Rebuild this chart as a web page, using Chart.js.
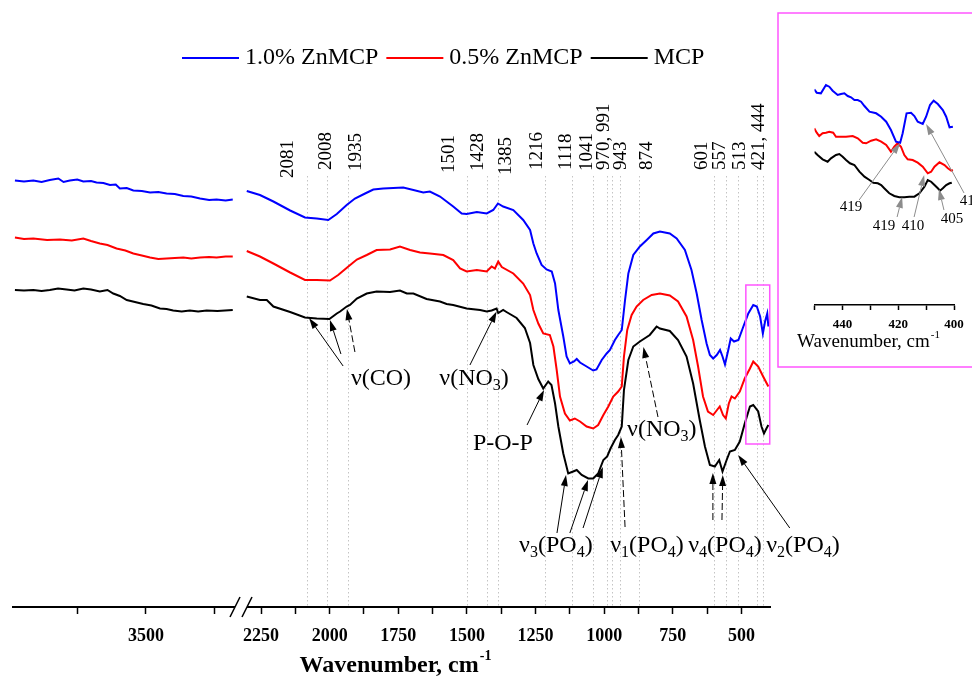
<!DOCTYPE html>
<html>
<head>
<meta charset="utf-8">
<script src="https://cdn.jsdelivr.net/npm/chart.js@4.4.1/dist/chart.umd.min.js"></script>
<style>
  html, body { margin: 0; padding: 0; background: #fff; }
  #wrap { position: relative; width: 972px; height: 684px; overflow: hidden; }
  #main { position: absolute; left: 0; top: 0; }
  #inset { position: absolute; left: 776px; top: 8px; }
</style>
</head>
<body>
<div id="wrap">
  <canvas id="main" width="972" height="684"></canvas>
  <canvas id="inset" width="196" height="370"></canvas>
</div>
<script>
const FONT = "'Liberation Serif', 'Times New Roman', serif";

// FTIR spectra, [wavenumber cm-1, transmittance a.u. (curves offset)]
// high-wavenumber segment (left of the axis break)
const zn10High = [[3977,85.3],[3944,85.1],[3910,85.3],[3880,85.0],[3850,85.4],[3819,85.7],[3800,85.0],[3777,85.3],[3750,85.5],[3728,85.1],[3700,85.2],[3680,84.9],[3655,84.8],[3631,84.4],[3610,84.5],[3595,83.7],[3570,83.8],[3546,83.3],[3515,83.2],[3485,82.9],[3455,83.0],[3425,82.7],[3395,82.6],[3364,82.2],[3335,82.1],[3303,81.7],[3270,81.4],[3243,81.5],[3210,81.3],[3184,81.5]];
const zn05High = [[3977,73.9],[3944,73.6],[3910,73.7],[3860,73.4],[3813,73.5],[3770,73.3],[3728,73.7],[3700,73.2],[3668,72.7],[3640,72.4],[3607,71.7],[3575,71.3],[3546,70.7],[3515,70.3],[3485,69.9],[3455,69.6],[3425,69.7],[3395,69.8],[3364,69.9],[3335,69.7],[3303,69.9],[3270,70.0],[3243,69.9],[3210,70.1],[3184,70.1]];
const mcpHigh = [[3977,63.4],[3944,63.3],[3910,63.4],[3880,63.2],[3850,63.4],[3820,63.7],[3789,63.5],[3760,63.3],[3728,63.7],[3700,63.5],[3668,63.1],[3640,63.4],[3619,62.7],[3595,62.2],[3570,61.4],[3540,61.0],[3510,60.6],[3480,60.3],[3449,59.7],[3425,59.6],[3401,59.3],[3370,59.1],[3340,59.3],[3310,59.1],[3279,59.3],[3240,59.2],[3184,59.4]];

// fingerprint segment (right of the break)
const zn10Low = [[2302,83.2],[2254,82.4],[2205,81.1],[2144,79.3],[2090,77.9],[2047,77.7],[2005,77.4],[1974,78.6],[1938,80.4],[1908,81.7],[1871,82.7],[1841,83.5],[1805,83.7],[1732,83.9],[1695,83.4],[1659,82.9],[1635,83.1],[1598,82.1],[1550,80.1],[1519,78.7],[1501,78.6],[1464,79.0],[1428,78.7],[1404,79.4],[1387,80.7],[1368,80.1],[1331,79.4],[1295,77.4],[1270,75.4],[1258,72.7],[1246,70.7],[1228,68.4],[1210,67.5],[1191,67.1],[1179,64.7],[1167,59.4],[1149,54.1],[1137,50.1],[1125,48.7],[1110,49.1],[1100,49.6],[1088,48.9],[1064,48.1],[1040,47.3],[1028,47.5],[1009,49.4],[991,50.7],[979,51.4],[961,53.4],[949,54.4],[936,55.4],[924,61.4],[912,66.7],[894,70.4],[870,72.1],[845,73.4],[821,74.7],[797,75.1],[761,74.7],[736,73.7],[706,71.4],[682,67.4],[663,62.7],[645,57.4],[627,52.7],[615,50.4],[603,49.7],[590,50.4],[578,51.4],[569,50.1],[560,48.5],[548,51.4],[539,53.7],[527,53.1],[511,53.4],[493,56.1],[475,58.7],[457,60.4],[444,60.1],[432,58.1],[422,54.7],[414,57.1],[406,58.7],[402,56.1]];
const zn05Low = [[2302,71.2],[2254,70.1],[2205,68.7],[2144,66.9],[2090,65.4],[2047,65.4],[1999,65.3],[1969,66.4],[1932,68.1],[1901,69.5],[1865,70.4],[1829,71.4],[1780,71.5],[1744,72.1],[1707,71.4],[1671,70.9],[1635,70.7],[1586,70.4],[1550,69.4],[1525,67.7],[1501,67.1],[1464,67.4],[1428,67.1],[1410,68.1],[1398,67.7],[1386,69.1],[1373,68.0],[1331,66.7],[1295,64.7],[1270,62.4],[1258,59.4],[1240,56.7],[1222,54.7],[1198,54.4],[1185,52.1],[1173,47.4],[1161,42.1],[1143,38.7],[1125,37.3],[1107,37.7],[1088,37.1],[1064,36.1],[1040,35.7],[1022,36.4],[1003,38.4],[985,40.1],[967,42.1],[949,43.1],[936,44.1],[928,50.1],[916,55.4],[900,58.4],[882,60.1],[858,61.4],[827,62.4],[797,62.7],[761,62.3],[731,61.1],[700,58.1],[676,53.4],[658,48.1],[640,42.1],[622,39.1],[603,38.4],[589,39.4],[579,40.1],[567,38.4],[557,37.7],[546,40.7],[536,42.1],[524,41.7],[506,43.1],[488,45.7],[469,47.7],[457,49.1],[439,48.1],[421,46.1],[402,44.1]];
const mcpLow = [[2302,62.1],[2254,61.4],[2229,61.4],[2205,60.1],[2144,59.0],[2090,57.9],[2047,57.7],[2001,57.6],[1974,58.7],[1962,59.1],[1938,60.1],[1926,60.4],[1901,61.7],[1865,62.7],[1829,63.1],[1780,63.0],[1744,63.3],[1719,62.7],[1695,62.7],[1647,61.6],[1598,61.1],[1574,60.6],[1550,60.4],[1501,59.7],[1452,59.4],[1428,59.1],[1410,59.3],[1392,59.7],[1386,58.8],[1368,59.4],[1356,59.0],[1319,57.8],[1289,55.8],[1270,52.8],[1258,48.4],[1240,45.6],[1222,43.7],[1204,45.1],[1192,44.4],[1179,40.7],[1167,36.1],[1149,30.7],[1131,26.7],[1113,27.1],[1100,27.4],[1082,26.4],[1058,25.7],[1040,25.7],[1022,26.7],[1003,29.4],[989,30.1],[977,31.7],[961,33.4],[949,34.4],[936,36.1],[928,43.4],[912,49.4],[894,52.1],[870,53.1],[834,54.4],[809,56.1],[797,55.7],[761,55.2],[731,53.4],[700,50.1],[676,44.7],[652,37.4],[633,32.1],[615,28.4],[597,28.1],[581,29.4],[569,27.1],[554,29.4],[542,31.1],[524,31.4],[506,33.1],[488,36.7],[469,40.1],[457,40.4],[439,39.1],[427,36.1],[418,34.7],[409,35.7],[402,36.4]];

// 450-400 cm-1 detail
const zn10Inset = [[450.1,215.7],[449.2,212.3],[447.7,211.7],[445.9,220],[444.7,218.3],[443.5,214.3],[441.7,210],[440.5,211],[439.3,211.7],[438.1,209],[436.9,207.7],[435.7,205],[434.5,205],[433.3,203.3],[432.1,199],[430.3,193.3],[427.9,191.7],[426.1,188.3],[424.3,183.3],[422.6,175],[420.8,163.3],[419.3,162.3],[418.4,171.7],[417,191.7],[415.4,192.3],[414.2,189],[413,183.3],[411.2,181],[410,188.3],[408.6,200],[407.3,204.3],[405.8,201],[404,195],[402.8,188.3],[401.6,177.7],[400.4,178.3]];
const zn05Inset = [[450.1,176.7],[449.2,172.3],[448.3,169],[447.1,171.7],[445.9,172.3],[444.7,173.3],[443.3,172.3],[442.3,168.3],[441.1,168.3],[438.7,168.3],[436.3,169],[434.5,166.7],[432.7,162.3],[431.5,161.7],[429.7,164.3],[427.9,165.7],[426.1,163.3],[424.3,160],[422.6,153.3],[421.4,158.3],[420.2,161.7],[419,158.3],[417.8,150],[416.6,145.7],[414.8,145],[413,142.3],[411.2,138.3],[409.4,131.7],[408.2,133.3],[407,138.3],[405.2,142.7],[403.4,140],[402.2,136.7],[401,134.3],[400.4,135]];
const mcpInset = [[450.1,153.3],[448.9,150],[447.1,145.7],[445.3,143.3],[444.1,146.7],[442.3,150],[441.1,151],[439.9,148.3],[438.7,145],[437.3,141.7],[435.7,140],[433.9,133.3],[432.1,128.3],[430.3,125],[428.9,122.3],[427.3,121.7],[426.1,120],[425,116.7],[423.2,111.7],[421.4,109],[419.6,107.7],[417.8,107.7],[416,108.3],[414.2,108.3],[412.4,111.7],[410.6,118.3],[409.4,125],[408.2,123.3],[407,120],[405.8,116.7],[405,114.3],[404,116.7],[402.8,120],[401.6,121.7],[400.8,122.3]];

const seriesNames = ['1.0% ZnMCP', '0.5% ZnMCP', 'MCP'];
const seriesColors = ['#0000ff', '#ff0000', '#000000'];

// axis ticks
const highTicks = [3750, 3500, 3250];
const highTickLabels = [3500];
const lowTicks = [2250, 2125, 2000, 1875, 1750, 1625, 1500, 1375, 1250, 1125, 1000, 875, 750, 625, 500];
const lowTickLabels = [2250, 2000, 1750, 1500, 1250, 1000, 750, 500];
const insetTicks = [450, 440, 430, 420, 410, 400];
const insetTickLabels = [440, 420, 400];

// assigned bands: dotted guides, and the rotated labels [text, wavenumber, level]
const peakLines = [2081, 2008, 1935, 1501, 1428, 1385, 1216, 1118, 1041, 991, 970, 943, 874, 601, 557, 513, 444, 421];
const peakLabels = [['2081',2153,85.8],['2008',2014,87.4],['1935',1905,87.2],['1501',1565,86.8],['1428',1460,87.2],['1385',1359,86.4],['1216',1246,87.4],['1118',1139,87.4],['1041',1064,87.2],['970, 991',999,87.4],['943',939,87.4],['874',843,87.4],['601',645,87.4],['557',578,87.4],['513',506,87.4],['421, 444',435,87.4]];

// band assignments: text (_ = subscript), anchor [wavenumber, level]
const bandNotes = [['ν(CO)',1813,45.6],['ν(NO_3)',1474,45.6],['P-O-P',1369,32.6],['ν_3(PO_4)',1176,12.2],['ν_1(PO_4)',844,12.2],['ν(NO_3)',790,35.4],['ν_4(PO_4)',560,12.2],['ν_2(PO_4)',276,12.2]];
// arrows [from wn, from level, to wn, to level, dashed]
const bandArrows = [[1951,48.2,2075,57.8,0],[1959,50.6,1999,57.4,0],[1908,51,1937,59.6,1],[1489,48.4,1392,59.1,0],[1281,36.4,1219,43.4,0],[1172,14.8,1139,26.4,0],[1125,14.8,1059,25.4,0],[1077,15.8,1005,28,0],[924,16,939,34,1],[804,38,857,52,1],[604,17.4,604,26.8,1],[571,17.4,568,26.4,1],[324,15.8,512,30.4,0]];

const insetNotes = [['419',436.9,98],['419',425.1,79],['410',414.7,79],['405',400.7,86],['410',393.9,104]];
const insetArrows = [[434.0,105,419.3,162],[420.4,88,418.6,108],[414.3,88,410.7,130],[403.6,95,405.4,116],[396.4,112,410,181]];

function line(points, color, xAxisID) {
  return {
    data: points.map(([x, y]) => ({ x, y })),
    borderColor: color, borderWidth: 2, pointRadius: 0, tension: 0, fill: false,
    xAxisID, yAxisID: 'y'
  };
}

function arrow(ctx, x0, y0, x1, y1, color, dashed) {
  const a = Math.atan2(y1 - y0, x1 - x0), c = Math.cos(a), s = Math.sin(a);
  const head = 11, half = 3.5;
  ctx.save();
  ctx.strokeStyle = color; ctx.fillStyle = color; ctx.lineWidth = 1;
  ctx.setLineDash(dashed ? [7, 3] : []);
  ctx.beginPath();
  ctx.moveTo(x0, y0);
  ctx.lineTo(x1 - head * c, y1 - head * s);
  ctx.stroke();
  ctx.setLineDash([]);
  ctx.beginPath();
  ctx.moveTo(x1, y1);
  ctx.lineTo(x1 - head * c + half * s, y1 - head * s - half * c);
  ctx.lineTo(x1 - head * c - half * s, y1 - head * s + half * c);
  ctx.closePath();
  ctx.fill();
  ctx.restore();
}

// text with subscripts, centred on (cx, cy)
function richText(ctx, str, cx, cy, size) {
  const parts = [];
  for (let i = 0; i < str.length; i++) {
    if (str[i] === '_') { parts.push({ t: str[i + 1], sub: true }); i++; }
    else if (parts.length && !parts[parts.length - 1].sub) parts[parts.length - 1].t += str[i];
    else parts.push({ t: str[i], sub: false });
  }
  const subSize = Math.round(size * 0.66);
  let total = 0;
  parts.forEach(p => {
    ctx.font = (p.sub ? subSize : size) + 'px ' + FONT;
    p.w = ctx.measureText(p.t).width;
    total += p.w;
  });
  let x = cx - total / 2;
  ctx.textAlign = 'left';
  ctx.textBaseline = 'middle';
  parts.forEach(p => {
    ctx.font = (p.sub ? subSize : size) + 'px ' + FONT;
    ctx.fillText(p.t, x, p.sub ? cy + size * 0.3 : cy);
    x += p.w;
  });
}

function axisTitle(ctx, cx, cy, size, weight) {
  ctx.save();
  ctx.fillStyle = '#000';
  ctx.textBaseline = 'middle';
  ctx.textAlign = 'left';
  ctx.font = weight + ' ' + size + 'px ' + FONT;
  const main = 'Wavenumber, cm';
  const w = ctx.measureText(main).width;
  ctx.font = weight + ' ' + Math.round(size * 0.6) + 'px ' + FONT;
  const ws = ctx.measureText('-1').width;
  const x = cx - (w + ws) / 2;
  ctx.font = weight + ' ' + size + 'px ' + FONT;
  ctx.fillText(main, x, cy);
  ctx.font = weight + ' ' + Math.round(size * 0.6) + 'px ' + FONT;
  ctx.fillText('-1', x + w + 1, cy - size * 0.38);
  ctx.restore();
}

const spectrumDecor = {
  id: 'spectrumDecor',
  beforeDatasetsDraw(chart) {
    const { ctx, scales: { xLow, y } } = chart;
    ctx.save();
    ctx.strokeStyle = '#c4c4c4';
    ctx.lineWidth = 1;
    ctx.setLineDash([1.5, 2.5]);
    peakLines.forEach(wn => {
      const x = Math.round(xLow.getPixelForValue(wn)) + 0.5;
      ctx.beginPath();
      ctx.moveTo(x, y.getPixelForValue(86.2));
      ctx.lineTo(x, y.getPixelForValue(0));
      ctx.stroke();
    });
    ctx.restore();
  },
  afterDraw(chart) {
    const { ctx, scales: { xHigh, xLow, y } } = chart;
    const px = wn => xLow.getPixelForValue(wn);
    const py = v => y.getPixelForValue(v);

    // axis break
    const bx = xHigh.right, by = py(0);
    ctx.save();
    ctx.fillStyle = '#fff';
    ctx.fillRect(bx - 6, by - 3, 12, 6);
    ctx.strokeStyle = '#000';
    ctx.lineWidth = 1.5;
    [-6, 6].forEach(d => {
      ctx.beginPath();
      ctx.moveTo(bx + d - 5, by + 10);
      ctx.lineTo(bx + d + 5, by - 10);
      ctx.stroke();
    });
    ctx.restore();

    // rotated band positions
    ctx.save();
    ctx.fillStyle = '#000';
    ctx.font = '19px ' + FONT;
    ctx.textAlign = 'left';
    ctx.textBaseline = 'middle';
    peakLabels.forEach(([t, wn, lv]) => {
      ctx.save();
      ctx.translate(px(wn), py(lv));
      ctx.rotate(-Math.PI / 2);
      ctx.fillText(t, 0, 0);
      ctx.restore();
    });
    ctx.restore();

    // assignments
    ctx.save();
    ctx.fillStyle = '#000';
    bandNotes.forEach(([t, wn, lv]) => richText(ctx, t, px(wn), py(lv), 24));
    ctx.restore();
    bandArrows.forEach(([w0, l0, w1, l1, d]) => arrow(ctx, px(w0), py(l0), px(w1), py(l1), '#000', d));

    // window shown in the detail panel
    ctx.save();
    ctx.strokeStyle = '#ff55ff';
    ctx.lineWidth = 1.5;
    const x0 = px(484), x1 = px(397), y0 = py(64.4), y1 = py(32.6);
    ctx.strokeRect(x0, y0, x1 - x0, y1 - y0);
    ctx.restore();

    // legend
    ctx.save();
    ctx.font = '24px ' + FONT;
    ctx.textBaseline = 'middle';
    ctx.textAlign = 'left';
    let lx = 182;
    const ly = 58;
    seriesNames.forEach((name, i) => {
      ctx.strokeStyle = seriesColors[i];
      ctx.lineWidth = 2;
      ctx.beginPath();
      ctx.moveTo(lx, ly);
      ctx.lineTo(lx + 57, ly);
      ctx.stroke();
      ctx.fillStyle = '#000';
      ctx.fillText(name, lx + 63, ly);
      lx += 63 + ctx.measureText(name).width + 8;
    });
    ctx.restore();

    axisTitle(ctx, 395, 666, 24, 'bold');
  }
};

function wnAxis(ticks, labels, extra) {
  return Object.assign({
    type: 'linear', axis: 'x', position: 'bottom', stack: 'wn', reverse: true, offset: false,
    grid: { drawOnChartArea: false, drawTicks: true, tickLength: 7, tickWidth: 1.5, tickColor: '#000' },
    border: { display: true, color: '#000', width: 2 },
    afterBuildTicks: s => { s.ticks = ticks.map(v => ({ value: v })); },
    // fixed box height; labels never reach the ends, so no side padding
    afterFit: s => { s.height = 52; s.paddingLeft = 0; s.paddingRight = 0; },
    ticks: {
      autoSkip: false, maxRotation: 0, minRotation: 0, padding: 12, color: '#000',
      font: { family: FONT, size: 18, weight: 'bold' },
      callback: v => labels.includes(v) ? String(v) : ''
    }
  }, extra);
}

new Chart(document.getElementById('main'), {
  type: 'line',
  data: {
    datasets: [
      line(zn10High, seriesColors[0], 'xHigh'), line(zn05High, seriesColors[1], 'xHigh'), line(mcpHigh, seriesColors[2], 'xHigh'),
      line(zn10Low, seriesColors[0], 'xLow'), line(zn05Low, seriesColors[1], 'xLow'), line(mcpLow, seriesColors[2], 'xLow')
    ]
  },
  options: {
    responsive: false, animation: false, devicePixelRatio: 1,
    layout: { padding: { left: 13, right: 202, top: 107, bottom: 25 } },
    plugins: { legend: { display: false }, tooltip: { enabled: false } },
    scales: {
      xHigh: wnAxis(highTicks, highTickLabels, { min: 3154, max: 3984, stackWeight: 228 }),
      xLow: wnAxis(lowTicks, lowTickLabels, { min: 396, max: 2323, stackWeight: 529 }),
      y: { display: false, min: 0, max: 100 }
    }
  },
  plugins: [spectrumDecor]
});

const insetDecor = {
  id: 'insetDecor',
  afterDraw(chart) {
    const { ctx, scales: { x, y } } = chart;
    ctx.save();
    ctx.strokeStyle = '#ff55ff';
    ctx.lineWidth = 1.5;
    ctx.strokeRect(2, 5, 220, 354);
    ctx.restore();

    insetArrows.forEach(([w0, l0, w1, l1]) =>
      arrow(ctx, x.getPixelForValue(w0), y.getPixelForValue(l0), x.getPixelForValue(w1), y.getPixelForValue(l1), '#8c8c8c', 0));
    ctx.save();
    ctx.fillStyle = '#000';
    ctx.font = '15px ' + FONT;
    ctx.textAlign = 'center';
    ctx.textBaseline = 'middle';
    insetNotes.forEach(([t, wn, lv]) => ctx.fillText(t, x.getPixelForValue(wn), y.getPixelForValue(lv)));
    ctx.restore();

    axisTitle(ctx, 92, 334, 19, 'normal');
  }
};

new Chart(document.getElementById('inset'), {
  type: 'line',
  data: {
    datasets: [
      line(zn10Inset, seriesColors[0], 'x'), line(zn05Inset, seriesColors[1], 'x'), line(mcpInset, seriesColors[2], 'x')
    ]
  },
  options: {
    responsive: false, animation: false, devicePixelRatio: 1,
    layout: { padding: { left: 38.5, right: 18, top: 37, bottom: 33 } },
    plugins: { legend: { display: false }, tooltip: { enabled: false } },
    scales: {
      x: {
        type: 'linear', min: 400, max: 450, reverse: true, offset: false,
        grid: { drawOnChartArea: false, drawTicks: true, tickLength: 5, tickWidth: 1.5, tickColor: '#000' },
        border: { display: true, color: '#000', width: 1.5 },
        afterBuildTicks: s => { s.ticks = insetTicks.map(v => ({ value: v })); },
        afterFit: s => { s.height = 40; s.paddingLeft = 0; s.paddingRight = 0; },
        ticks: {
          autoSkip: false, maxRotation: 0, minRotation: 0, padding: 7, color: '#000',
          font: { family: FONT, size: 13, weight: 'bold' },
          callback: v => insetTickLabels.includes(v) ? String(v) : ''
        }
      },
      y: { display: false, min: 0, max: 260 }
    }
  },
  plugins: [insetDecor]
});
</script>
</body>
</html>
